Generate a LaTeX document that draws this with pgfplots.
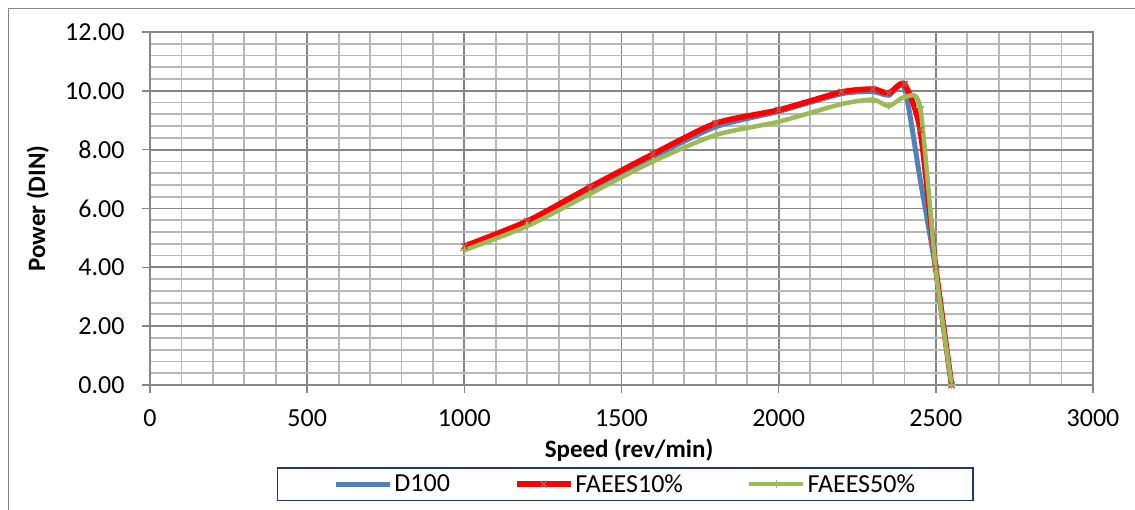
\documentclass[border=0pt]{standalone}
\usepackage{fontspec}
\setmainfont{Carlito}
\usepackage{pgfplots}
\pgfplotsset{compat=1.18}
\definecolor{sblue}{HTML}{4F81BD}
\definecolor{sred}{HTML}{FF0000}
\definecolor{mred}{HTML}{C0504D}
\definecolor{sgreen}{HTML}{9BBB59}
\definecolor{majgrid}{HTML}{868686}
\definecolor{mingrid}{HTML}{B8B8B8}
\definecolor{legnavy}{HTML}{1F3864}
\begin{document}
\begin{tikzpicture}
\path[use as bounding box] (0pt,0pt) rectangle (1135pt,510pt);
\draw[majgrid, line width=1.5pt] (8.5pt,-5pt) -- (8.5pt,501.5pt) -- (1140pt,501.5pt);
\begin{axis}[
  at={(150pt,125pt)}, anchor=south west,
  scale only axis, width=943pt, height=353pt,
  xmin=0, xmax=3000, ymin=0, ymax=12,
  xtick={0,500,...,3000}, ytick={0,2,...,12},
  minor x tick num=4, minor y tick num=4,
  grid=both,
  major grid style={majgrid, line width=1.8pt},
  minor grid style={mingrid, line width=1.8pt},
  axis line style={majgrid, line width=1.8pt},
  tick align=outside, tick pos=left,
  major tick length=8pt, minor tick length=0pt,
  tick style={majgrid, line width=1.5pt},
  /pgf/number format/assume math mode=true,
  tick label style={font=\fontsize{26}{30}\selectfont, black},
  yticklabel style={xshift=-14pt, /pgf/number format/.cd, fixed, fixed zerofill, precision=2},
  xticklabel style={yshift=-13pt, /pgf/number format/.cd, 1000 sep={}},
  xlabel={\bfseries Speed (rev/min)},
  ylabel={\bfseries Power (DIN)},
  label style={font=\fontsize{25}{30}\selectfont},
  xlabel style={at={(axis description cs:0.508,-0.184)}, anchor=center},
  ylabel style={at={(axis description cs:-0.119,0.5)}, anchor=center},
  legend columns=3,
  legend style={at={(axis description cs:0.504,-0.281)}, anchor=center,
    draw=legnavy, line width=1.5pt, font=\fontsize{26}{30}\selectfont,
    inner xsep=56pt, inner ysep=4.5pt,
    /tikz/every even column/.append style={column sep=62pt}},
  legend image code/.code={\draw[mark repeat=2,mark phase=2,#1] plot coordinates {(0pt,0pt) (27pt,0pt) (54pt,0pt)};},
]
\addplot[sblue, line width=5pt, smooth, tension=0.4, no markers] coordinates {
(1000,4.65) (1200,5.50) (1400,6.62) (1600,7.75) (1800,8.78) (2000,9.30)
(2200,9.90) (2300,9.97) (2350,9.85) (2400,10.10) (2450,7.00) (2500,3.90) (2550,0)};
\addlegendentry{D100}
\addplot[sred, line width=5.5pt, smooth, tension=0.4, mark=x,
  mark options={mred, line width=1.5pt, scale=2.2, solid}] coordinates {
(1000,4.72) (1200,5.57) (1400,6.73) (1600,7.85) (1800,8.90) (2000,9.35)
(2200,9.96) (2300,10.06) (2350,9.92) (2400,10.23) (2450,8.67) (2500,3.98) (2550,0)};
\addlegendentry{FAEES10\%}
\addplot[sgreen, line width=4.5pt, smooth, tension=0.4, mark=+,
  mark options={sgreen, line width=1.5pt, scale=2, solid}] coordinates {
(1000,4.58) (1200,5.40) (1400,6.50) (1600,7.60) (1800,8.50) (2000,8.95)
(2200,9.55) (2300,9.70) (2350,9.48) (2400,9.78) (2450,9.45) (2500,3.90) (2550,0)};
\addlegendentry{FAEES50\%}
\end{axis}
\end{tikzpicture}
\end{document}
